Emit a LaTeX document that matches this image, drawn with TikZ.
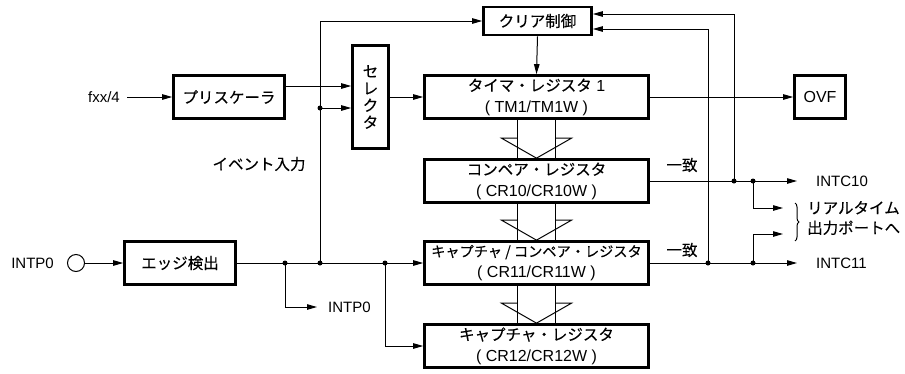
\documentclass[tikz,border=0pt]{standalone}
\usepackage{fontspec}
\setmainfont{Liberation Sans}
\newfontfamily\jp[FakeBold=0.2]{Noto Sans CJK JP}
\usetikzlibrary{arrows.meta,decorations.pathreplacing,calc}
\begin{document}
\begin{tikzpicture}[x=1pt,y=-1pt,
  box/.style={draw,line width=2.7pt,inner sep=0pt,align=center,font=\fontsize{16}{21}\selectfont},
  ln/.style={line width=1pt},
  arr/.style={ln,-{Triangle[length=10pt,width=5.5pt]}},
  dot/.style={circle,fill,inner sep=0pt,minimum size=5pt},
  lbl/.style={inner sep=0pt,font=\fontsize{15}{18}\selectfont}
]
\useasboundingbox (0,0) rectangle (905,373);

% boxes
\node[box,minimum width=111pt,minimum height=43pt] (pre) at (229,97) {\jp\fontsize{15.5}{21}\selectfont プリスケーラ};
\node[box,minimum width=36pt,minimum height=103pt,font=\fontsize{15.5}{17}\selectfont] (sel) at (370.5,97) {\jp セ\\\jp レ\\\jp ク\\\jp タ};
\node[box,minimum width=224pt,minimum height=43pt] (tm) at (536.5,97) {{\jp\fontsize{15.5}{21}\selectfont タイマ・レジスタ} 1\\( TM1/TM1W )};
\node[box,minimum width=108pt,minimum height=28pt] (clr) at (537.5,21) {\jp\fontsize{15.5}{21}\selectfont クリア制御};
\node[box,minimum width=51pt,minimum height=43pt] (ovf) at (820,97) {OVF};
\node[box,minimum width=224pt,minimum height=43pt] (cr10) at (536.5,181) {{\jp\fontsize{15.5}{21}\selectfont コンペア・レジスタ}\\( CR10/CR10W )};
\node[box,minimum width=224pt,minimum height=43pt] (cr11) at (536.5,263) {{\jp\fontsize{14.2}{21}\selectfont キャプチャ / コンペア・レジスタ}\\( CR11/CR11W )};
\node[box,minimum width=224pt,minimum height=43pt] (cr12) at (536.5,346) {{\jp\fontsize{15.5}{21}\selectfont キャプチャ・レジスタ}\\( CR12/CR12W )};
\node[box,minimum width=111pt,minimum height=43pt] (edge) at (180,263) {\jp\fontsize{15.5}{21}\selectfont エッジ検出};

% labels
\node[lbl,anchor=east,inner xsep=7pt] (fxx) at (127,97) {fxx/4};
\node[lbl] (evt) at (259,164) {\jp\fontsize{15.5}{18}\selectfont イベント入力};
\node[lbl,anchor=east] (intp0l) at (54,263) {INTP0};
\node[circle,draw,ln,minimum size=17pt,inner sep=0pt] (pin) at (76,263) {};
\node[lbl,anchor=west,inner xsep=11pt] (intp0r) at (317,307) {INTP0};
\node[lbl,anchor=west,inner xsep=19pt] (i10) at (797,181) {INTC10};
\node[lbl,anchor=west,inner xsep=19pt] (i11) at (797,263) {INTC11};
\node[lbl] (m10) at (682,165) {\jp\fontsize{15.5}{18}\selectfont 一致};
\node[lbl] (m11) at (682,250) {\jp\fontsize{15.5}{18}\selectfont 一致};
\node[lbl,anchor=west,align=left,font=\fontsize{15.5}{20}\selectfont] (rt) at (807,218) {\jp リアルタイム\\\jp 出力ポートへ};

% junction coordinates
\coordinate (e1) at (285,263);
\coordinate (e2) at (320,263);
\coordinate (e3) at (385,263);
\coordinate (es) at (320,108);
\coordinate (f10) at (734,181);
\coordinate (r10) at (753,181);
\coordinate (f11) at (708,263);
\coordinate (r11) at (753,263);
\coordinate (rt1) at (783,208);
\coordinate (rt2) at (783,234);

% connectors
\draw[arr] (fxx.east) -- (pre.west);
\draw[arr] ($(pre.east)+(0,-11)$) -- ($(sel.west)+(0,-11)$);
\draw[arr] (es) -- (es -| sel.west);
\draw[arr] (sel.east) -- (tm.west);
\draw[arr] (e2) |- (clr.west);
\draw[arr] (clr.south) -- (tm.north);
\draw[arr] (tm.east) -- (ovf.west);
\draw[arr] (pin.east) -- (edge.west);
\draw[arr] (edge.east) -- (cr11.west);
\draw[arr] (e1) |- (intp0r.west);
\draw[arr] (e3) |- (cr12.west);
\draw[arr] (cr10.east) -- (i10.west);
\draw[arr] (cr11.east) -- (i11.west);
\draw[arr] (f10) |- ($(clr.east)+(0,-7)$);
\draw[arr] (f11) |- ($(clr.east)+(0,8)$);
\draw[arr] (r10) |- (rt1);
\draw[arr] (r11) |- (rt2);
\draw[ln,decorate,decoration={brace,amplitude=4pt}] (795,203) -- (795,241);

\foreach \p in {es,e1,e2,e3,f10,r10,f11,r11} \node[dot] at (\p) {};

% hollow data-transfer arrows
\foreach \a/\b in {tm/cr10,cr10/cr11,cr11/cr12}{
  \draw[ln] ($(\a.south)+(-19,0)$) -- ($(\b.north)+(-19,0)$);
  \draw[ln] ($(\a.south)+(19,0)$) -- ($(\b.north)+(19,0)$);
  \draw[ln] ($(\b.north)+(-19,-20)$) -- ($(\b.north)+(-35,-20)$) -- (\b.north) -- ($(\b.north)+(35,-20)$) -- ($(\b.north)+(19,-20)$);
}
\end{tikzpicture}
\end{document}
